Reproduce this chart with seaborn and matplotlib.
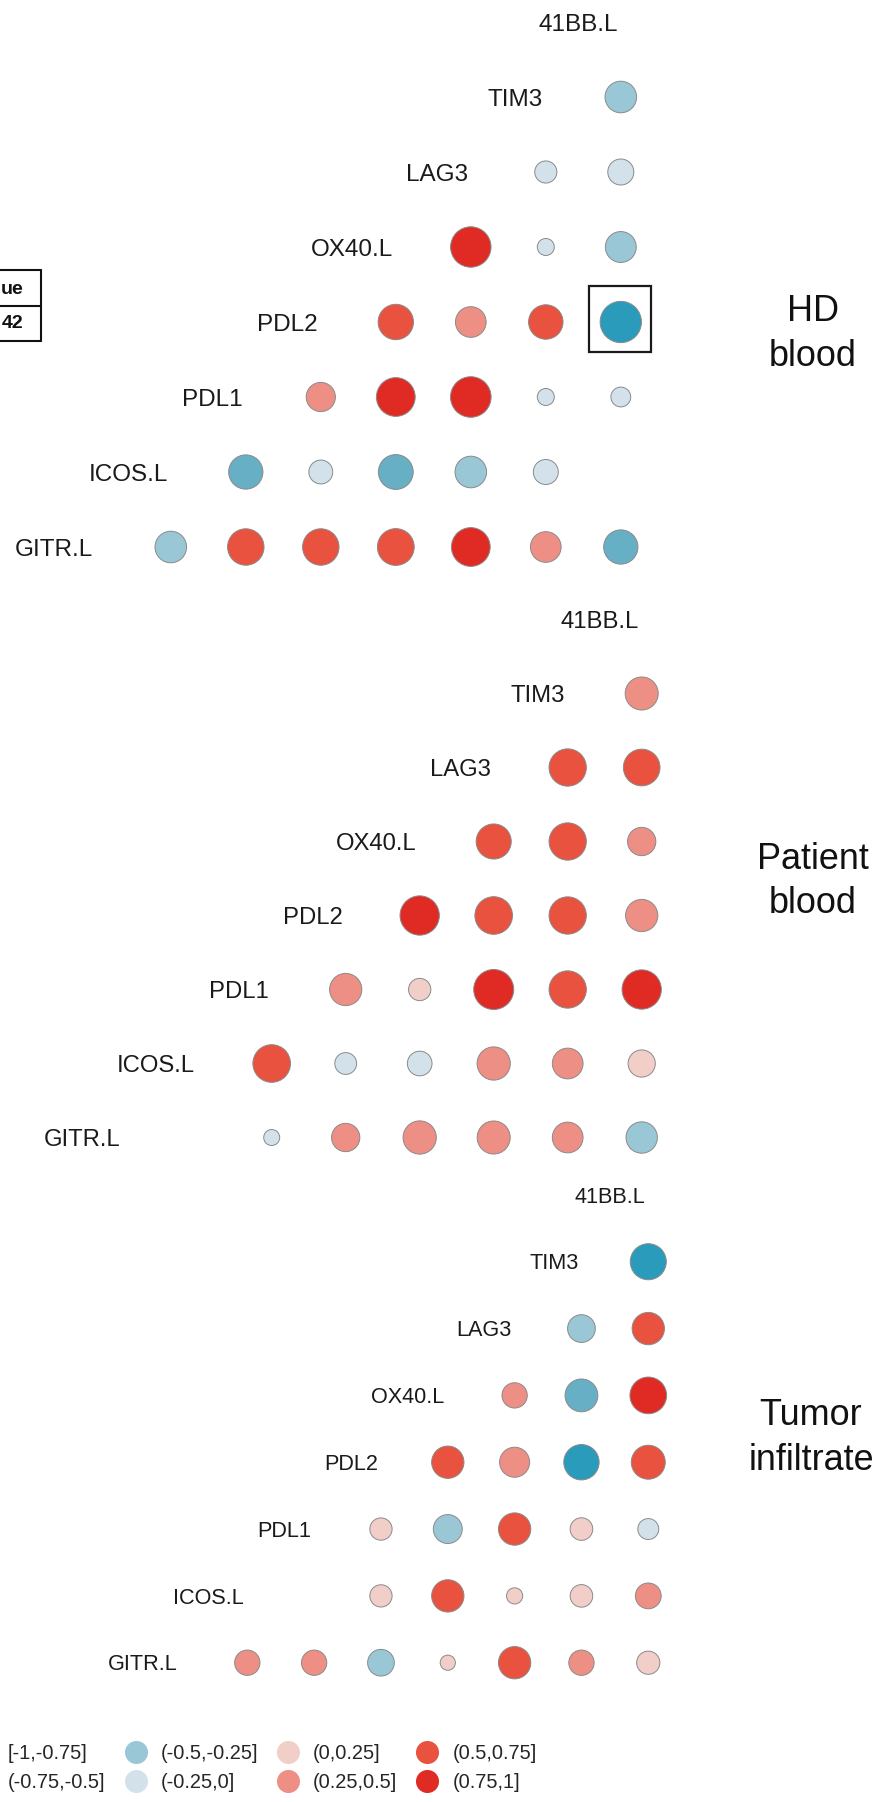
import numpy as np
import pandas as pd
import matplotlib
matplotlib.use("Agg")
import matplotlib.pyplot as plt
import matplotlib.transforms as mtransforms
from matplotlib.lines import Line2D
from matplotlib.patches import Rectangle
import seaborn as sns

# ---------------------------------------------------------------- data
VARIABLES = ["GITR.L", "ICOS.L", "PDL1", "PDL2", "OX40.L", "LAG3", "TIM3", "41BB.L"]
nan = np.nan

# Row k holds corr(VARIABLES[k], VARIABLES[j]) for every j > k
HD_BLOOD = [
    [-0.39, 0.64, 0.64, 0.66, 0.78, 0.35, -0.52],
    [-0.52, -0.12, -0.55, -0.39, -0.15, nan],
    [0.29, 0.78, 0.90, -0.01, -0.04],
    [0.58, 0.35, 0.53, -0.95],
    [0.89, -0.01, -0.36],
    [-0.08, -0.18],
    [-0.39],
]
PATIENT_BLOOD = [
    [nan, -0.005, 0.27, 0.49, 0.48, 0.37, -0.40],
    [0.74, -0.08, -0.15, 0.49, 0.37, 0.23],
    [0.44, 0.09, 0.90, 0.72, 0.85],
    [0.85, 0.74, 0.72, 0.44],
    [0.59, 0.72, 0.27],
    [0.72, 0.68],
    [0.48],
]
TUMOR_INFILTRATE = [
    [0.26, 0.26, -0.32, 0.01, 0.63, 0.26, 0.18],
    [nan, 0.15, 0.63, 0.02, 0.16, 0.28],
    [0.15, -0.43, 0.63, 0.16, -0.11],
    [0.63, 0.49, -0.84, 0.74],
    [0.26, -0.66, 0.94],
    [-0.37, 0.63],
    [-0.89],
]

PANEL_NAMES = [("HD", "blood"), ("Patient", "blood"), ("Tumor", "infiltrate")]
PANEL_VALUES = [HD_BLOOD, PATIENT_BLOOD, TUMOR_INFILTRATE]

BIN_EDGES = [-1, -0.75, -0.5, -0.25, 0, 0.25, 0.5, 0.75, 1]
BIN_LABELS = ["[-1,-0.75]", "(-0.75,-0.5]", "(-0.5,-0.25]", "(-0.25,0]",
              "(0,0.25]", "(0.25,0.5]", "(0.5,0.75]", "(0.75,1]"]
BIN_COLORS = ["#2a9bbb", "#67afc5", "#9ac7d6", "#d3e2ea",
              "#f2cec9", "#ee8f85", "#e8523f", "#e02a24"]

# highlighted cell: (panel index, variable, variable)
HIGHLIGHT = (0, "PDL2", "41BB.L")

# side table fragment
TABLE_TEXT = ["ue", "42"]

# ---------------------------------------------------------------- layout
W, H, DPI = 888, 1802, 100
PX2PT = 72.0 / DPI
# grid origin (column 0, top row) and cell step for each panel, in pixels
PANEL_GRID = [(170.8, 22.0, 75.0), (197.7, 619.5, 74.0), (247.3, 1194.9, 66.83)]
# x centre and baselines of the two-line panel names, in pixels
PANEL_NAME_POS = [(813, 321, 366), (813, 869, 913), (811, 1425, 1470)]

sns.set_style("white")
plt.rcParams["font.family"] = ["Liberation Sans", "DejaVu Sans"]

fig = plt.figure(figsize=(W / DPI, H / DPI), dpi=DPI)
palette = dict(zip(BIN_LABELS, BIN_COLORS))


def fig_xy(x, y):
    return x / W, 1 - y / H


def panel_frame(values):
    recs = []
    n = len(VARIABLES)
    for i, row in enumerate(values):
        for k, r in enumerate(row):
            j = i + 1 + k
            recs.append({"var1": VARIABLES[i], "var2": VARIABLES[j],
                         "col": j - 1, "row": n - 1 - i, "r": r})
    df = pd.DataFrame(recs).dropna(subset=["r"]).reset_index(drop=True)
    df["bin"] = pd.Categorical(
        pd.cut(df["r"], bins=BIN_EDGES, labels=BIN_LABELS, include_lowest=True),
        categories=BIN_LABELS)
    return df


def diameter_pt(absr, step):
    return step * PX2PT * (0.19 + 0.37 * np.sqrt(absr))


for p, (values, (x0, y0, step)) in enumerate(zip(PANEL_VALUES, PANEL_GRID)):
    ax = fig.add_axes([0, 0, 1, 1])
    ax.set_xlim(-x0 / step, (W - x0) / step)
    ax.set_ylim((H - y0) / step, -y0 / step)
    ax.axis("off")
    ax.patch.set_alpha(0)

    df = panel_frame(values)
    df["area"] = diameter_pt(df["r"].abs(), step) ** 2
    amin, amax = diameter_pt(0.0, step) ** 2, diameter_pt(1.0, step) ** 2

    sns.scatterplot(data=df, x="col", y="row", hue="bin", palette=palette,
                    hue_order=BIN_LABELS, size="area", sizes=(amin, amax),
                    size_norm=(amin, amax), edgecolor="#8a8a8a", linewidth=0.7,
                    legend=False, ax=ax, zorder=3)

    # variable names on the diagonal, right-aligned on the cell centre
    fs = 0.323 * step * PX2PT
    cap = 0.716 * fs
    trans = mtransforms.offset_copy(ax.transData, fig=fig, x=-2.2, y=-cap / 2,
                                    units="points")
    n = len(VARIABLES)
    for i, name in enumerate(VARIABLES):
        ax.text(i - 1, n - 1 - i, name, ha="right", va="baseline",
                fontsize=fs, color="#1a1a1a", transform=trans)

    if HIGHLIGHT[0] == p:
        i1, i2 = VARIABLES.index(HIGHLIGHT[1]), VARIABLES.index(HIGHLIGHT[2])
        cx, cy = i2 - 1, n - 1 - i1
        ax.add_patch(Rectangle((cx - 31.8 / step, cy - 35.7 / step),
                               62.0 / step, 65.7 / step, fill=False,
                               edgecolor="#1a1a1a", linewidth=1.6, zorder=4))

    xc, b1, b2 = PANEL_NAME_POS[p]
    for txt, b in zip(PANEL_NAMES[p], (b1, b2)):
        fig.text(*fig_xy(xc, b), txt, ha="center", va="baseline",
                 fontsize=36 * PX2PT, color="#111111")

# ---------------------------------------------------------------- table fragment
tbl_top, tbl_mid, tbl_bot, tbl_right = 270, 305.5, 341, 41
for y in (tbl_top, tbl_mid, tbl_bot):
    fig.add_artist(Line2D([0, tbl_right / W], [1 - y / H] * 2, color="#111111",
                          linewidth=1.5, transform=fig.transFigure))
fig.add_artist(Line2D([tbl_right / W] * 2, [1 - tbl_top / H, 1 - tbl_bot / H],
                      color="#111111", linewidth=1.5, transform=fig.transFigure))
for txt, yc in zip(TABLE_TEXT, (289, 323)):
    fig.text(*fig_xy(23.5, yc), txt, ha="right", va="center", fontsize=14,
             fontweight="bold", color="#111111")

# ---------------------------------------------------------------- legend
handles = [Line2D([], [], marker="o", linestyle="", markersize=16.6,
                  markerfacecolor=c, markeredgewidth=0) for c in BIN_COLORS]
leg_fs = 20 * PX2PT
fig.legend(handles, BIN_LABELS, ncol=4, loc="upper left",
           bbox_to_anchor=fig_xy(-27, 1744), bbox_transform=fig.transFigure,
           frameon=False, borderpad=0, borderaxespad=0, handlelength=1.0,
           handletextpad=0.75, columnspacing=1.0, labelspacing=0.5,
           fontsize=leg_fs)

fig.savefig("out.png", dpi=DPI, facecolor="white")
